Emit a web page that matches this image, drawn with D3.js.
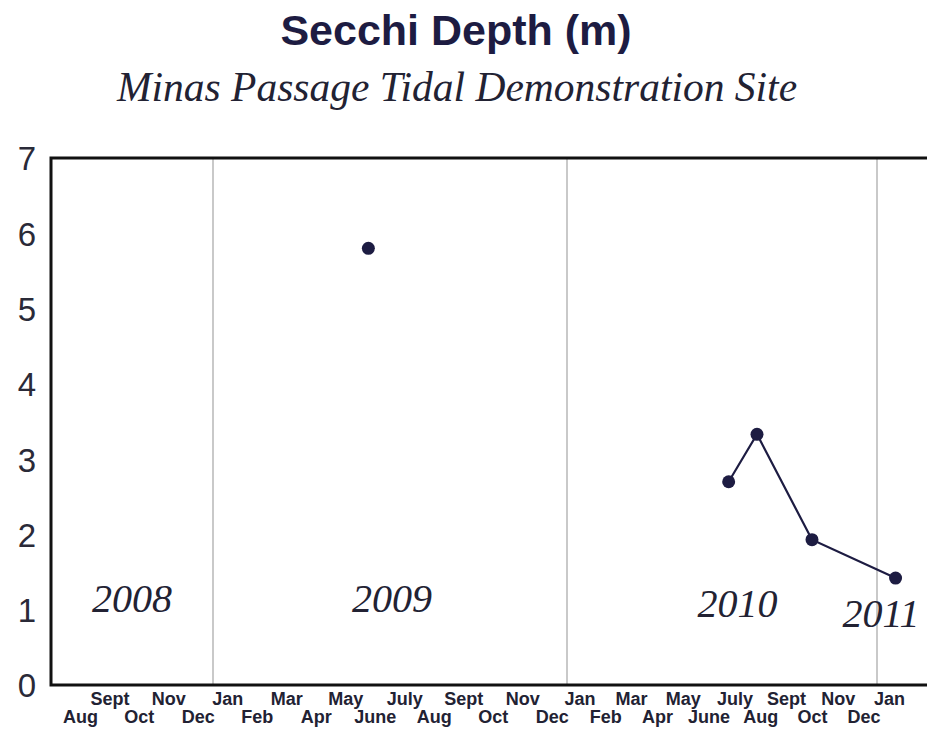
<!DOCTYPE html>
<html>
<head>
<meta charset="utf-8">
<script src="https://cdn.jsdelivr.net/npm/d3@7"></script>
<style>
  body { margin: 0; background: #fff; }
  svg { display: block; }
</style>
</head>
<body>
<div id="chart"></div>
<script>
// data
const yTicks = [0, 1, 2, 3, 4, 5, 6, 7];
const monthNames = ['Aug', 'Sept', 'Oct', 'Nov', 'Dec',
  'Jan', 'Feb', 'Mar', 'Apr', 'May', 'June', 'July', 'Aug', 'Sept', 'Oct', 'Nov', 'Dec',
  'Jan', 'Feb', 'Mar', 'Apr', 'May', 'June', 'July', 'Aug', 'Sept', 'Oct', 'Nov', 'Dec',
  'Jan'];
const firstMonth = -5; // Aug 2008, counted in months from Jan 2009
const years = ['2008', '2009', '2010', '2011'];
const dates2009 = ['2009-06-09'];
const depth2009 = [5.8];
const dates2010 = ['2010-07-09', '2010-08-12', '2010-10-16', '2011-01-24'];
const depth2010 = [2.7, 3.33, 1.93, 1.42];

const W = 927, H = 732;
const navy = '#1d1c42';

// months since Jan 2009 (fractional)
function monthIndex(s) {
  const d = new Date(s + 'T00:00:00Z');
  const y = d.getUTCFullYear(), m = d.getUTCMonth();
  const days = new Date(Date.UTC(y, m + 1, 0)).getUTCDate();
  return (y - 2009) * 12 + m + (d.getUTCDate() - 1) / days;
}

const svg = d3.select('#chart').append('svg')
  .attr('width', W)
  .attr('height', H);

// the original spacing is not even from year to year
const x = d3.scaleLinear()
  .domain([-5.5, 0, 12, 24, 26])
  .range([51, 213, 567, 877, 927]);

const y = d3.scaleLinear()
  .domain([0, 7])
  .range([685, 158]);

svg.append('text')
  .attr('x', 456).attr('y', 45)
  .attr('text-anchor', 'middle')
  .style('font-family', 'Liberation Sans, Arial, sans-serif')
  .style('font-weight', 'bold')
  .style('font-size', '43px')
  .style('fill', navy)
  .text('Secchi Depth (m)');

svg.append('text')
  .attr('x', 457).attr('y', 101)
  .attr('text-anchor', 'middle')
  .style('font-family', 'Liberation Serif, Times New Roman, serif')
  .style('font-style', 'italic')
  .style('font-size', '41.5px')
  .style('fill', '#222233')
  .text('Minas Passage Tidal Demonstration Site');

// year separators
svg.append('g')
  .selectAll('line')
  .data([0, 12, 24])
  .enter()
  .append('line')
    .attr('x1', d => x(d)).attr('x2', d => x(d))
    .attr('y1', y(7)).attr('y2', y(0))
    .style('stroke', '#c9c9c9')
    .style('stroke-width', 2);

// axes frame (left, top, bottom)
svg.append('path')
  .attr('d', `M${W},${y(7)}H${x(-5.5)}V${y(0)}H${W}`)
  .style('fill', 'none')
  .style('stroke', '#111')
  .style('stroke-width', 3);

// y labels
const yAxis = svg.append('g')
  .attr('transform', 'translate(36,0)')
  .call(d3.axisLeft(y).tickValues(yTicks).tickFormat(d3.format('d')).tickSize(0).tickPadding(0));
yAxis.select('.domain').remove();
yAxis.selectAll('text')
  .attr('dy', '0.36em')
  .style('font-family', 'Liberation Sans, Arial, sans-serif')
  .style('font-size', '33px')
  .style('fill', '#2a2a38');

// month labels, staggered on two rows
svg.append('g')
  .selectAll('text')
  .data(monthNames)
  .enter()
  .append('text')
    .attr('x', (d, i) => x(firstMonth + i + 0.5))
    .attr('y', (d, i) => ((firstMonth + i) % 2 === 0 ? 705 : 723))
    .attr('text-anchor', 'middle')
    .style('font-family', 'Liberation Sans, Arial, sans-serif')
    .style('font-weight', 'bold')
    .style('font-size', '18px')
    .style('fill', '#222233')
    .text(d => d);

// year labels inside the plot
const yearPos = [[-2.75, 0.97], [6.07, 0.97], [18.6, 0.9], [24.16, 0.77]];
svg.append('g')
  .selectAll('text')
  .data(years)
  .enter()
  .append('text')
    .attr('x', (d, i) => x(yearPos[i][0]))
    .attr('y', (d, i) => y(yearPos[i][1]))
    .attr('text-anchor', 'middle')
    .style('font-family', 'Liberation Serif, Times New Roman, serif')
    .style('font-style', 'italic')
    .style('font-size', '40px')
    .style('fill', '#222233')
    .text(d => d);

const pts2009 = dates2009.map((d, i) => ({m: monthIndex(d), v: depth2009[i]}));
const pts2010 = dates2010.map((d, i) => ({m: monthIndex(d), v: depth2010[i]}));

svg.append('path')
  .datum(pts2010)
  .attr('d', d3.line().x(d => x(d.m)).y(d => y(d.v)))
  .style('fill', 'none')
  .style('stroke', navy)
  .style('stroke-width', 2.2);

svg.append('g')
  .selectAll('circle')
  .data(pts2009.concat(pts2010))
  .enter()
  .append('circle')
    .attr('cx', d => x(d.m))
    .attr('cy', d => y(d.v))
    .attr('r', 6.5)
    .style('fill', navy);
</script>
</body>
</html>
